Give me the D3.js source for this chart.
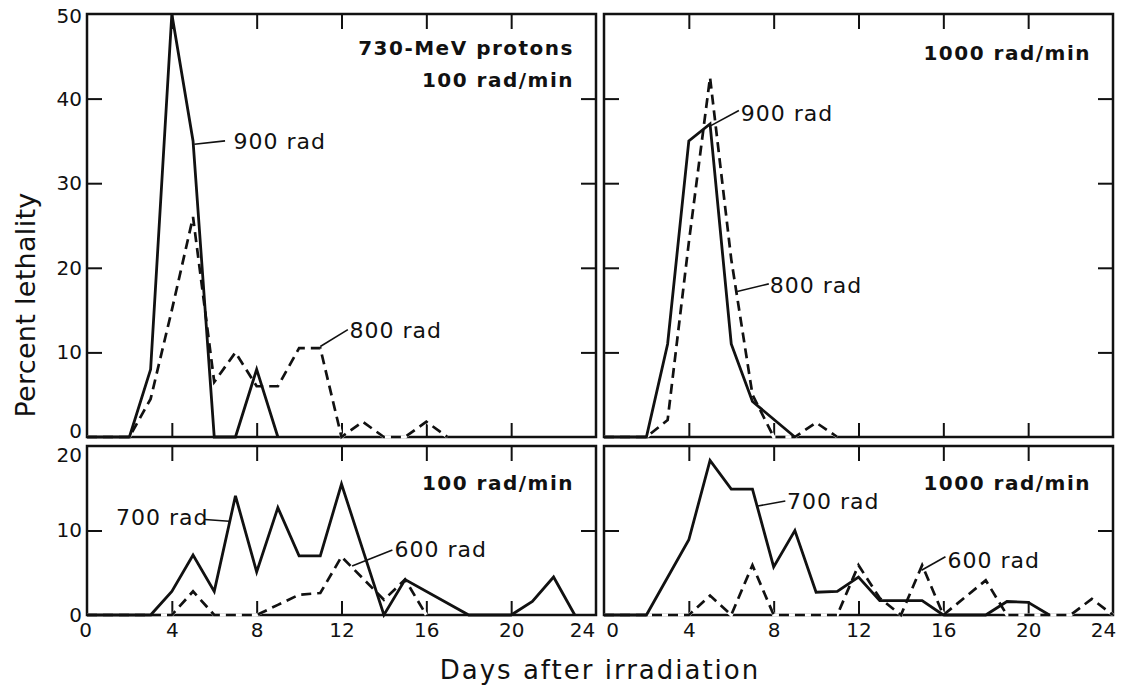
<!DOCTYPE html>
<html><head><meta charset="utf-8">
<script src="https://cdn.jsdelivr.net/npm/d3@7"></script>
<style>
html,body{margin:0;padding:0;background:#fff;}
svg{display:block;font-family:"DejaVu Sans",sans-serif;}
</style></head><body>
<svg id="c" width="1130" height="692"></svg>
<script>
// ---------- data ----------
const dayTicks = [0, 4, 8, 12, 16, 20, 24];
const innerDayTicks = [4, 8, 12, 16, 20];
const topPctTicks = [0, 10, 20, 30, 40, 50];
const botPctTicks = [0, 10, 20];

// top-left: 100 rad/min
const tl900Days = [0, 2, 3, 4, 5, 6, 7, 8, 9];
const tl900Pct  = [0, 0, 8, 50, 35, 0, 0, 8, 0];
const tl800Days = [0, 2, 3, 4, 5, 6, 7, 8, 9, 10, 11, 12, 13, 14, 15, 16, 17];
const tl800Pct  = [0, 0, 4.5, 15, 26, 6.5, 10, 6, 6, 10.5, 10.5, 0, 1.8, 0, 0, 1.8, 0];

// top-right: 1000 rad/min
const tr900Days = [0, 2, 3, 4, 5, 6, 7, 9];
const tr900Pct  = [0, 0, 11, 35, 37, 11, 4.2, 0];
const tr800Days = [0, 2, 3, 4, 5, 6, 7, 8, 9, 10, 11];
const tr800Pct  = [0, 0, 2, 23, 42.5, 21, 5, 0, 0, 1.7, 0];

// bottom-left: 100 rad/min
const bl700Days = [0, 3, 4, 5, 6, 7, 8, 9, 10, 11, 12, 14, 15, 18, 20, 21, 22, 23];
const bl700Pct  = [0, 0, 2.8, 7.1, 2.8, 14.1, 5.1, 12.7, 7, 7, 15.5, 0, 4.2, 0, 0, 1.6, 4.5, 0];
const bl600Days = [0, 4, 5, 6, 8, 9, 10, 11, 12, 14, 15, 16];
const bl600Pct  = [0, 0, 2.8, 0, 0, 1.2, 2.4, 2.6, 6.9, 1.8, 4.2, 0];

// bottom-right: 1000 rad/min
const br700Days = [0, 2, 4, 5, 6, 7, 8, 9, 10, 11, 12, 13, 15, 16, 18, 19, 20, 21];
const br700Pct  = [0, 0, 8.9, 18.3, 14.9, 14.9, 5.7, 10, 2.7, 2.8, 4.5, 1.7, 1.7, 0, 0, 1.6, 1.5, 0];
const br600Days = [0, 4, 5, 6, 7, 8, 11, 12, 13, 14, 15, 16, 18, 19, 22, 23, 24];
const br600Pct  = [0, 0, 2.3, 0, 5.9, 0, 0, 5.9, 2, 0, 5.9, 0, 4.1, 0, 0, 1.9, 0];

const xTitle = "Days after irradiation";
const yTitle = "Percent lethality";

// ---------- layout ----------
const svg = d3.select("#c");
const INK = "#111";
const panels = [
  {x0: 87, y0: 14, w: 509, h: 423, ymax: 50, yt: topPctTicks, yLabels: true, xLabels: false,
   solid: [tl900Days, tl900Pct], dashed: [tl800Days, tl800Pct],
   title: ["730-MeV protons", "100 rad/min"], titleY: [55, 87],
   labels: [
     {t: "900 rad", at: [6.91, 34.1], from: [5.06, 34.6], to: [6.51, 35.0]},
     {t: "800 rad", at: [12.38, 11.7], from: [11.0, 10.7], to: [12.3, 12.7]}
   ]},
  {x0: 604, y0: 14, w: 509, h: 423, ymax: 50, yt: topPctTicks, yLabels: false, xLabels: false,
   solid: [tr900Days, tr900Pct], dashed: [tr800Days, tr800Pct],
   title: ["1000 rad/min"], titleY: [60],
   labels: [
     {t: "900 rad", at: [6.45, 37.4], from: [5.04, 36.8], to: [6.36, 38.6]},
     {t: "800 rad", at: [7.82, 17.0], from: [6.28, 17.2], to: [7.77, 18.1]}
   ]},
  {x0: 87, y0: 446, w: 509, h: 169, ymax: 20, yt: botPctTicks, yLabels: true, xLabels: true,
   solid: [bl700Days, bl700Pct], dashed: [bl600Days, bl600Pct],
   title: ["100 rad/min"], titleY: [490],
   labels: [
     {t: "700 rad", at: [1.37, 10.7], from: [5.56, 11.3], to: [6.7, 11.1]},
     {t: "600 rad", at: [14.5, 6.9], from: [12.5, 5.8], to: [14.4, 7.7]}
   ]},
  {x0: 604, y0: 446, w: 509, h: 169, ymax: 20, yt: botPctTicks, yLabels: false, xLabels: true,
   solid: [br700Days, br700Pct], dashed: [br600Days, br600Pct],
   title: ["1000 rad/min"], titleY: [490],
   labels: [
     {t: "700 rad", at: [8.63, 12.5], from: [7.25, 12.9], to: [8.55, 13.5]},
     {t: "600 rad", at: [16.2, 5.6], from: [14.97, 5.3], to: [16.1, 6.9]}
   ]}
];

panels.forEach((p, pi) => {
  const x = d3.scaleLinear().domain([0, 24]).range([p.x0, p.x0 + p.w]);
  const y = d3.scaleLinear().domain([0, p.ymax]).range([p.y0 + p.h, p.y0]);
  const g = svg.append("g");

  // frame
  g.append("rect").attr("x", p.x0).attr("y", p.y0).attr("width", p.w).attr("height", p.h)
    .attr("fill", "none").attr("stroke", INK).attr("stroke-width", 2.5);

  const inner = p.yt.filter(v => v > 0 && v < p.ymax);
  const styleAxis = sel => {
    sel.select(".domain").remove();
    sel.selectAll(".tick line").attr("stroke", INK).attr("stroke-width", 2);
  };
  g.append("g").attr("transform", `translate(${p.x0},0)`)
    .call(d3.axisLeft(y).tickValues(inner).tickSizeInner(-15).tickSizeOuter(0).tickFormat(""))
    .call(styleAxis);
  g.append("g").attr("transform", `translate(${p.x0 + p.w},0)`)
    .call(d3.axisRight(y).tickValues(inner).tickSizeInner(-15).tickSizeOuter(0).tickFormat(""))
    .call(styleAxis);
  g.append("g").attr("transform", `translate(0,${p.y0})`)
    .call(d3.axisTop(x).tickValues(innerDayTicks).tickSizeInner(-15).tickSizeOuter(0).tickFormat(""))
    .call(styleAxis);
  g.append("g").attr("transform", `translate(0,${p.y0 + p.h})`)
    .call(d3.axisBottom(x).tickValues(innerDayTicks).tickSizeInner(-14).tickSizeOuter(0).tickFormat(""))
    .call(styleAxis);

  if (p.yLabels) {
    const ya = g.append("g").attr("transform", `translate(${p.x0},0)`)
      .call(d3.axisLeft(y).tickValues(p.yt).tickSize(0).tickPadding(5).tickFormat(d3.format("d")));
    ya.select(".domain").remove();
    ya.selectAll("text").attr("font-size", 20).attr("fill", INK)
      .attr("font-family", '"DejaVu Sans",sans-serif')
      .attr("transform", d => (p.ymax === 20 && d === 20) ? "translate(0,9)" : (p.ymax === 50 && d === 0) ? "translate(0,-6)" : (p.ymax === 50 && d === 50) ? "translate(0,2)" : null);
  }
  if (p.xLabels) {
    const left = p.x0 < 300;
    const xa = g.append("g").attr("transform", `translate(0,${p.y0 + p.h})`)
      .call(d3.axisBottom(x).tickValues(dayTicks).tickSize(0).tickPadding(8).tickFormat(d3.format("d")));
    xa.select(".domain").remove();
    xa.selectAll("text").attr("font-size", 20).attr("fill", INK)
      .attr("font-family", '"DejaVu Sans",sans-serif')
      .attr("dx", d => d === 0 ? (left ? -2 : 8) : d === 24 ? (left ? -14 : -10) : 0);
  }

  // series
  const line = d3.line().x(d => x(d[0])).y(d => y(d[1]));
  const dashedPts = d3.zip(p.dashed[0], p.dashed[1]);
  const solidPts = d3.zip(p.solid[0], p.solid[1]);
  g.append("path").attr("d", line(dashedPts)).attr("fill", "none")
    .attr("stroke", "#fff").attr("stroke-width", 3.2);
  g.append("path").attr("d", line(dashedPts)).attr("fill", "none")
    .attr("stroke", INK).attr("stroke-width", 2.7).attr("stroke-dasharray", "10,6")
    .attr("stroke-linejoin", "miter");
  g.append("path").attr("d", line(solidPts)).attr("fill", "none")
    .attr("stroke", INK).attr("stroke-width", 2.8).attr("stroke-linejoin", "miter");

  // series labels with leaders
  p.labels.forEach(l => {
    g.append("line").attr("x1", x(l.from[0])).attr("y1", y(l.from[1]))
      .attr("x2", x(l.to[0])).attr("y2", y(l.to[1]))
      .attr("stroke", INK).attr("stroke-width", 1.6);
    g.append("text").attr("x", x(l.at[0])).attr("y", y(l.at[1]))
      .attr("font-size", 22).attr("letter-spacing", 1).attr("fill", INK).text(l.t);
  });

  // bold panel titles
  p.title.forEach((t, i) => {
    g.append("text").attr("x", p.x0 + p.w - 22).attr("y", p.titleY[i])
      .attr("text-anchor", "end").attr("font-size", 20).attr("font-weight", "bold")
      .attr("letter-spacing", 1.5).attr("fill", INK).text(t);
  });
});

// axis titles
svg.append("text").attr("x", 600).attr("y", 679).attr("text-anchor", "middle")
  .attr("font-size", 26).attr("letter-spacing", 2).attr("fill", INK).text(xTitle);
svg.append("text").attr("transform", "translate(35,305) rotate(-90)").attr("text-anchor", "middle")
  .attr("font-size", 27).attr("letter-spacing", 0.3).attr("fill", INK).text(yTitle);
</script>
</body></html>
